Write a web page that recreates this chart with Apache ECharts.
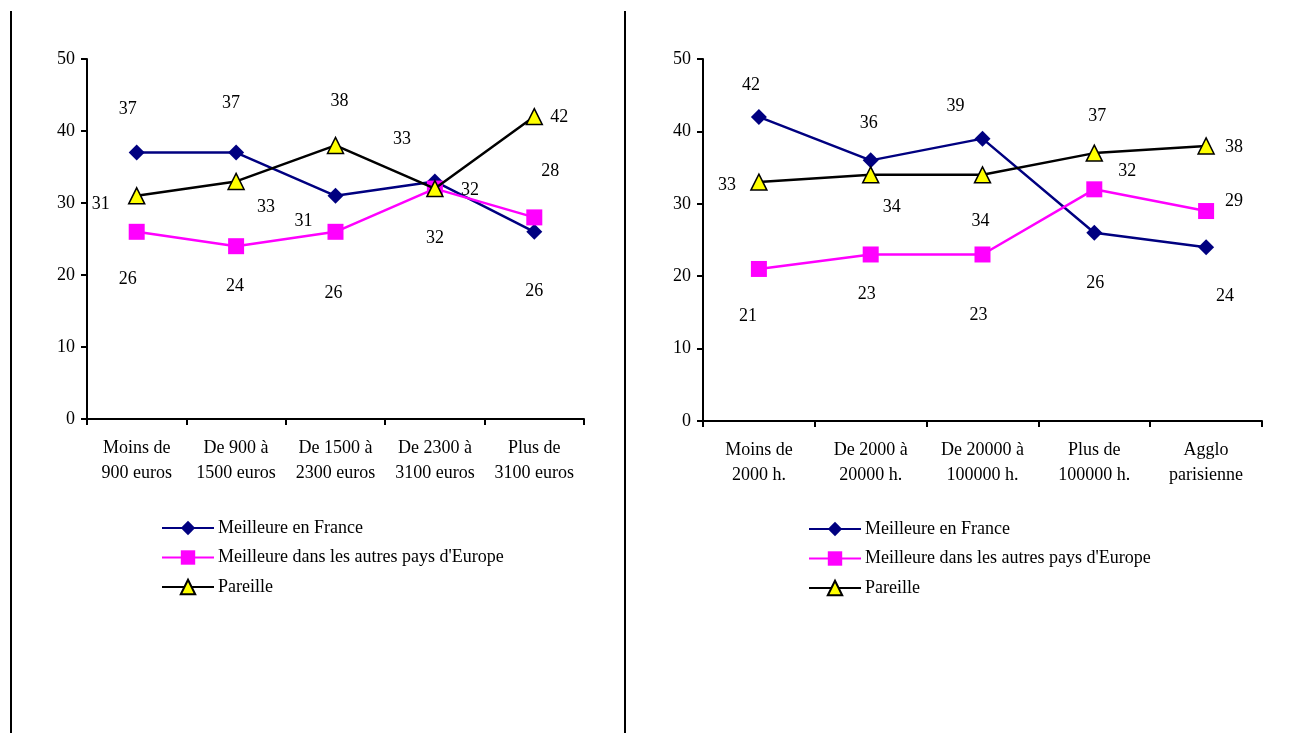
<!DOCTYPE html>
<html>
<head>
<meta charset="utf-8">
<script src="https://cdn.jsdelivr.net/npm/echarts@6/dist/echarts.min.js"></script>
<style>
html,body{margin:0;padding:0;background:#fff;}
#c{width:1289px;height:733px;}
</style>
</head>
<body>
<div id="c"></div>
<script>
// ---- Data ----
const seriesNames = ['Meilleure en France', "Meilleure dans les autres pays d'Europe", 'Pareille'];

const revenueCategories = ['Moins de\n900 euros', 'De 900 à\n1500 euros', 'De 1500 à\n2300 euros', 'De 2300 à\n3100 euros', 'Plus de\n3100 euros'];
const revenueFrance = [37, 37, 31, 33, 26];
const revenueEurope = [26, 24, 26, 32, 28];
const revenuePareille = [31, 33, 38, 32, 42];

const townCategories = ['Moins de\n2000 h.', 'De 2000 à\n20000 h.', 'De 20000 à\n100000 h.', 'Plus de\n100000 h.', 'Agglo\nparisienne'];
const townFrance = [42, 36, 39, 26, 24];
const townEurope = [21, 23, 23, 32, 29];
const townPareille = [33, 34, 34, 37, 38];

const yTicks = [0, 10, 20, 30, 40, 50];

// ---- Label placement (styling: pixel offsets of each label relative to its point) ----
const labelOffsets = {
  revenue: [
    [[-9,-45],[-5,-51],[-32,23],[-33,-44],[0,57]],
    [[-9,45],[-1,38],[-2,59],[35,0],[16,-48]],
    [[-36,6],[30,24],[4,-46],[0,48],[25,-1]]
  ],
  town: [
    [[-8,-34],[-2,-39],[-27,-34],[1,49],[19,47]],
    [[-11,45],[-4,38],[-4,59],[33,-20],[28,-12]],
    [[-32,1],[21,30],[-2,44],[3,-39],[28,-1]]
  ]
};

const FONT = '"Liberation Serif", "Times New Roman", serif';
const FS = 18;
const colors = ['#000080', '#FF00FF', '#000000'];
const symbols = ['diamond', 'rect', 'triangle'];
const symbolSizes = [16, 16, 16];

function makeSeries(name, idx, data, offsets, axisIdx) {
  return {
    type: 'line',
    name: name,
    xAxisIndex: axisIdx,
    yAxisIndex: axisIdx,
    data: data,
    symbol: symbols[idx],
    symbolSize: symbolSizes[idx],
    showAllSymbol: true,
    lineStyle: { color: colors[idx], width: 2.5 },
    itemStyle: idx === 2
      ? { color: '#FFFF00', borderColor: '#000000', borderWidth: 1.5 }
      : { color: colors[idx], borderWidth: 0 },
    emphasis: { disabled: true },
    label: {
      show: true,
      position: 'inside',
      color: '#000',
      fontFamily: FONT,
      fontSize: FS
    },
    labelLayout: function (p) {
      const o = offsets[p.dataIndex];
      return { dx: o[0], dy: o[1] + 2, hideOverlap: false };
    },
    z: 2 + idx
  };
}

function makeXAxis(cats, gridIdx) {
  return {
    type: 'category',
    gridIndex: gridIdx,
    data: cats,
    boundaryGap: true,
    axisLine: { show: true, lineStyle: { color: '#000', width: 2 } },
    axisTick: { show: true, inside: false, length: 6, interval: 0, lineStyle: { color: '#000', width: 2 } },
    axisLabel: { interval: 0, color: '#000', fontFamily: FONT, fontSize: FS, lineHeight: 25, margin: 17 },
    splitLine: { show: false }
  };
}

function makeYAxis(gridIdx) {
  return {
    type: 'value',
    gridIndex: gridIdx,
    min: yTicks[0],
    max: yTicks[yTicks.length - 1],
    interval: yTicks[1] - yTicks[0],
    axisLine: { show: true, lineStyle: { color: '#000', width: 2 } },
    axisTick: { show: true, inside: false, length: 6, lineStyle: { color: '#000', width: 2 } },
    axisLabel: { color: '#000', fontFamily: FONT, fontSize: FS, margin: 12 },
    splitLine: { show: false }
  };
}

function makeLegend(left, top) {
  return {
    orient: 'vertical',
    left: left,
    top: top,
    padding: 0,
    data: seriesNames,
    itemWidth: 52,
    itemHeight: 18,
    itemGap: 11.5,
    selectedMode: false,
    textStyle: { color: '#000', fontFamily: FONT, fontSize: FS, lineHeight: 18, padding: [0, 0, 0, -1] }
  };
}

const chart = echarts.init(document.getElementById('c'), null, { renderer: 'canvas' });
chart.setOption({
  animation: false,
  backgroundColor: '#ffffff',
  grid: [
    { left: 87, top: 59, width: 497, height: 360 },
    { left: 703, top: 59, width: 559, height: 362 }
  ],
  xAxis: [makeXAxis(revenueCategories, 0), makeXAxis(townCategories, 1)],
  yAxis: [makeYAxis(0), makeYAxis(1)],
  legend: [makeLegend(161, 519), makeLegend(808, 520)],
  graphic: [
    { type: 'line', shape: { x1: 11, y1: 11, x2: 11, y2: 733 }, style: { stroke: '#000', lineWidth: 2 } },
    { type: 'line', shape: { x1: 625, y1: 11, x2: 625, y2: 733 }, style: { stroke: '#000', lineWidth: 2 } }
  ],
  series: [
    makeSeries(seriesNames[0], 0, revenueFrance, labelOffsets.revenue[0], 0),
    makeSeries(seriesNames[1], 1, revenueEurope, labelOffsets.revenue[1], 0),
    makeSeries(seriesNames[2], 2, revenuePareille, labelOffsets.revenue[2], 0),
    makeSeries(seriesNames[0], 0, townFrance, labelOffsets.town[0], 1),
    makeSeries(seriesNames[1], 1, townEurope, labelOffsets.town[1], 1),
    makeSeries(seriesNames[2], 2, townPareille, labelOffsets.town[2], 1)
  ]
});
</script>
</body>
</html>
